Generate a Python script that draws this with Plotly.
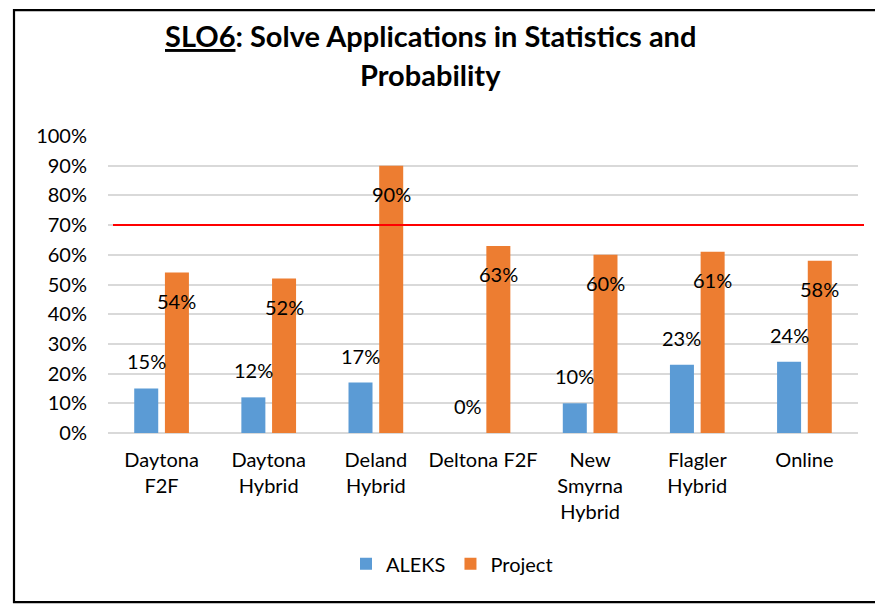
import plotly.graph_objects as go

categories = ["Daytona<br>F2F", "Daytona<br>Hybrid", "Deland<br>Hybrid", "Deltona F2F",
              "New<br>Smyrna<br>Hybrid", "Flagler<br>Hybrid", "Online"]
aleks = [0.15, 0.12, 0.17, 0.00, 0.10, 0.23, 0.24]
project = [0.54, 0.52, 0.90, 0.63, 0.60, 0.61, 0.58]
target = 0.70
y_ticks = [0, 0.1, 0.2, 0.3, 0.4, 0.5, 0.6, 0.7, 0.8, 0.9, 1.0]
y_tick_labels = ["0%", "10%", "20%", "30%", "40%", "50%", "60%", "70%", "80%", "90%", "100%"]

FONT = "Lato, 'Open Sans', sans-serif"
BLUE = "#5B9BD5"
ORANGE = "#ED7D31"

# plot area in page pixels: x 108..858, y 135.5..433 (page has 8px body margin)
def px(xs):
    return (xs - 108) / 750.0

def py(ys):
    return (433 - ys) / 297.5

fig = go.Figure()
fig.add_trace(go.Bar(x=categories, y=aleks, name="ALEKS", marker=dict(color=BLUE, line=dict(width=0))))
fig.add_trace(go.Bar(x=categories, y=project, name="Project", marker=dict(color=ORANGE, line=dict(width=0))))

annotations = []
for c, v in zip(categories, aleks):
    annotations.append(dict(x=c, y=v, xref="x", yref="y", text=f"{round(v*100)}%",
                            showarrow=False, xshift=-15.4, yshift=27, yanchor="middle",
                            font=dict(family=FONT, size=20, color="#000000")))
for c, v in zip(categories, project):
    annotations.append(dict(x=c, y=v, xref="x", yref="y", text=f"{round(v*100)}%",
                            showarrow=False, xshift=15.4, yshift=-28, yanchor="middle",
                            font=dict(family=FONT, size=20, color="#000000")))

# title lines
annotations.append(dict(x=px(430), y=py(34.5), xref="paper", yref="paper",
                        text="<b><u>SLO6</u>: Solve Applications in Statistics and</b>",
                        showarrow=False, xanchor="center", yanchor="middle",
                        font=dict(family=FONT, size=29, color="#000000")))
annotations.append(dict(x=px(430), y=py(73.5), xref="paper", yref="paper",
                        text="<b>Probability</b>",
                        showarrow=False, xanchor="center", yanchor="middle",
                        font=dict(family=FONT, size=29, color="#000000")))

shapes = [
    dict(type="line", xref="paper", yref="y", x0=px(113), x1=px(864), y0=target, y1=target,
         line=dict(color="#FF0000", width=2)),
    dict(type="rect", xref="paper", yref="paper",
         x0=px(14), x1=1.2, y0=py(602.5), y1=py(9.5),
         line=dict(color="#000000", width=2.2), layer="above"),
]

fig.update_layout(
    width=875, height=596,
    margin=dict(l=100, r=25, t=127.5, b=171),
    paper_bgcolor="white", plot_bgcolor="white",
    barmode="group", bargap=0.427, bargroupgap=0.218,
    font=dict(family=FONT, size=20, color="#000000"),
    showlegend=True,
    legend=dict(orientation="h", x=px(452), xanchor="center", y=py(564), yanchor="middle",
                font=dict(family=FONT, size=20, color="#000000"), itemwidth=30,
                bgcolor="rgba(0,0,0,0)"),
    annotations=annotations,
    shapes=shapes,
    xaxis=dict(showgrid=False, showline=False, zeroline=False, ticks="",
               tickfont=dict(family=FONT, size=20, color="#000000"), ticklabelstandoff=13),
    yaxis=dict(range=[0, 1], tickvals=y_ticks, ticktext=y_tick_labels,
               showgrid=True, gridcolor="#D9D9D9", gridwidth=2,
               zeroline=True, zerolinecolor="#D9D9D9", zerolinewidth=2,
               showline=False, ticks="", ticklabelstandoff=20,
               tickfont=dict(family=FONT, size=20, color="#000000")),
)

fig.write_html("out.html")
